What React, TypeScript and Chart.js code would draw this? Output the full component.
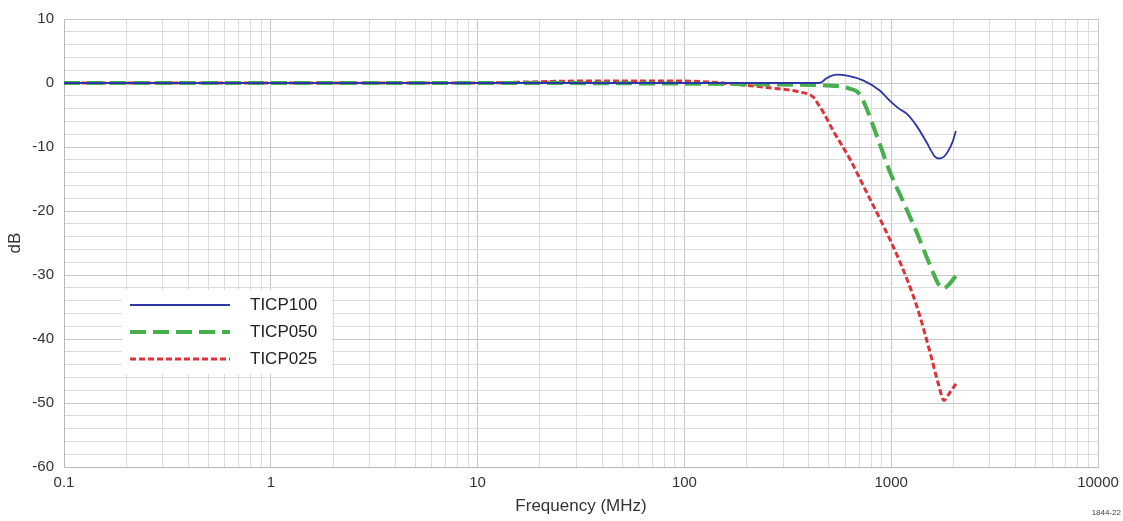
import React, { useEffect, useRef } from "react";
import { Chart, registerables } from "chart.js";

Chart.register(...registerables);

// ---- Data ----
const decades = [0.1, 1, 10, 100, 1000, 10000];
const xTickLabels = ["0.1", "1", "10", "100", "1000", "10000"];
const yMajorTicks = [10, 0, -10, -20, -30, -40, -50, -60];

const seriesLabels = ["TICP100", "TICP050", "TICP025"];

const ticp100Freq = [0.1, 1, 10, 100, 300, 450, 490, 545, 620, 731, 883, 986, 1090, 1188, 1327, 1485, 1628, 1709, 1800, 1888, 1980, 2056];
const ticp100Db = [0, 0, 0, 0, 0, 0, 0.8, 1.3, 1.1, 0.4, -1.2, -2.8, -4.0, -4.8, -6.7, -9.3, -11.5, -11.8, -11.5, -10.6, -9.2, -7.5];

const ticp050Freq = [0.1, 1, 10, 100, 200, 400, 500, 580, 632, 693, 733, 851, 986, 1145, 1327, 1542, 1690, 1787, 1900, 2056];
const ticp050Db = [0, 0, 0, -0.1, -0.2, -0.3, -0.4, -0.6, -0.9, -1.5, -2.8, -8.2, -13.9, -18.6, -23.3, -28.5, -31.4, -32.1, -31.5, -30.1];

const ticp025Freq = [0.1, 1, 10, 20, 30, 50, 100, 140, 190, 250, 360, 420, 437, 470, 525, 632, 761, 916, 1104, 1327, 1542, 1690, 1800, 1900, 2056];
const ticp025Db = [0, 0, 0, 0.2, 0.3, 0.3, 0.3, 0.1, -0.3, -0.7, -1.4, -2.2, -3.0, -4.6, -7.5, -11.9, -17.1, -22.3, -28, -34.8, -42.1, -47, -49.6, -48.6, -47];

const FONT = "'Liberation Sans', Arial, sans-serif";

const isDecade = (v: number) => {
  const l = Math.log10(v);
  return Math.abs(l - Math.round(l)) < 1e-9;
};

const xGridValues: number[] = [];
decades.forEach((d, i) => {
  if (i === decades.length - 1) {
    xGridValues.push(d);
  } else {
    for (let k = 1; k <= 9; k++) xGridValues.push(+(d * k).toPrecision(6));
  }
});
const yGridValues: number[] = [];
for (let v = -60; v <= 10; v += 2) yGridValues.push(v);

const pts = (fs: number[], ds: number[]) => fs.map((f, i) => ({ x: f, y: ds[i] }));

const legendPlugin = {
  id: "customLegend",
  afterDatasetsDraw(chart: any) {
    const { ctx, chartArea } = chart;
    const left = chartArea.left;
    const top = chartArea.top;
    ctx.save();
    ctx.fillStyle = "#ffffff";
    ctx.fillRect(left + 58, top + 271, 210, 84);
    chart.data.datasets.forEach((ds: any, i: number) => {
      const y = top + 286 + i * 27;
      ctx.beginPath();
      ctx.strokeStyle = ds.borderColor;
      ctx.lineWidth = ds.borderWidth;
      ctx.setLineDash(ds.borderDash || []);
      ctx.moveTo(left + 66, y);
      ctx.lineTo(left + 166, y);
      ctx.stroke();
      ctx.setLineDash([]);
      ctx.fillStyle = "#222";
      ctx.font = `17px ${FONT}`;
      ctx.textBaseline = "middle";
      ctx.textAlign = "left";
      ctx.fillText(ds.label, left + 186, y);
    });
    ctx.restore();
  },
};

export default function App() {
  const canvasRef = useRef<HTMLCanvasElement | null>(null);

  useEffect(() => {
    document.body.style.margin = "0";
    const canvas = canvasRef.current;
    if (!canvas) return;
    const chart = new Chart(canvas, {
      type: "line",
      data: {
        datasets: [
          {
            label: seriesLabels[0],
            data: pts(ticp100Freq, ticp100Db),
            borderColor: "#2e36a6",
            borderWidth: 1.8,
            pointRadius: 0,
            tension: 0.3,
            cubicInterpolationMode: "monotone",
          },
          {
            label: seriesLabels[1],
            data: pts(ticp050Freq, ticp050Db),
            borderColor: "#45b04c",
            borderWidth: 4,
            borderDash: [16, 7],
            pointRadius: 0,
            cubicInterpolationMode: "monotone",
          },
          {
            label: seriesLabels[2],
            data: pts(ticp025Freq, ticp025Db),
            borderColor: "#dc3238",
            borderWidth: 3,
            borderDash: [6, 3],
            pointRadius: 0,
            cubicInterpolationMode: "monotone",
          },
        ],
      },
      options: {
        animation: false,
        responsive: true,
        maintainAspectRatio: false,
        layout: { padding: { top: 19, right: 25, bottom: 0, left: 0 } },
        plugins: {
          legend: { display: false },
          tooltip: { enabled: false },
        },
        scales: {
          x: {
            type: "logarithmic",
            min: 0.1,
            max: 10000,
            afterBuildTicks: (scale: any) => {
              scale.ticks = xGridValues.map((v) => ({ value: v }));
            },
            afterFit: (scale: any) => {
              scale.height = 54;
              scale.paddingLeft = 0;
              scale.paddingRight = 0;
            },
            grid: {
              drawTicks: false,
              color: (c: any) => (c.tick && isDecade(c.tick.value) ? "#c6c6c6" : "#dcdcdc"),
              lineWidth: 1,
            },
            border: { color: "#b8b8b8" },
            ticks: {
              autoSkip: false,
              maxRotation: 0,
              padding: 7,
              color: "#333",
              font: { family: FONT, size: 15 },
              callback: (value: any) => {
                const v = Number(value);
                if (!isDecade(v)) return "";
                const idx = decades.findIndex((d) => Math.abs(d - v) < 1e-9 * d);
                return idx >= 0 ? xTickLabels[idx] : "";
              },
            },
            title: {
              display: true,
              text: "Frequency (MHz)",
              color: "#333",
              font: { family: FONT, size: 17 },
              padding: { top: 0, bottom: 4 },
            },
          },
          y: {
            type: "linear",
            min: -60,
            max: 10,
            afterBuildTicks: (scale: any) => {
              scale.ticks = yGridValues.map((v) => ({ value: v }));
            },
            afterFit: (scale: any) => {
              scale.width = 64;
            },
            grid: {
              drawTicks: false,
              color: (c: any) => (c.tick && c.tick.value % 10 === 0 ? "#c6c6c6" : "#dcdcdc"),
              lineWidth: 1,
            },
            border: { color: "#b8b8b8" },
            ticks: {
              autoSkip: false,
              padding: 10,
              color: "#333",
              font: { family: FONT, size: 15 },
              callback: (value: any) => (yMajorTicks.includes(Number(value)) ? String(value) : ""),
            },
            title: {
              display: true,
              text: "dB",
              color: "#333",
              font: { family: FONT, size: 17 },
              padding: { top: 5, bottom: 0 },
            },
          },
        },
      },
      plugins: [legendPlugin],
    } as any);
    return () => chart.destroy();
  }, []);

  return (
    <div style={{ position: "absolute", left: 0, top: 0, width: 1123, height: 521, background: "#fff" }}>
      <canvas ref={canvasRef} />
      <span
        style={{
          position: "absolute",
          right: 2,
          top: 508,
          fontSize: 8,
          fontFamily: FONT,
          color: "#444",
        }}
      >
        1844-22
      </span>
    </div>
  );
}
